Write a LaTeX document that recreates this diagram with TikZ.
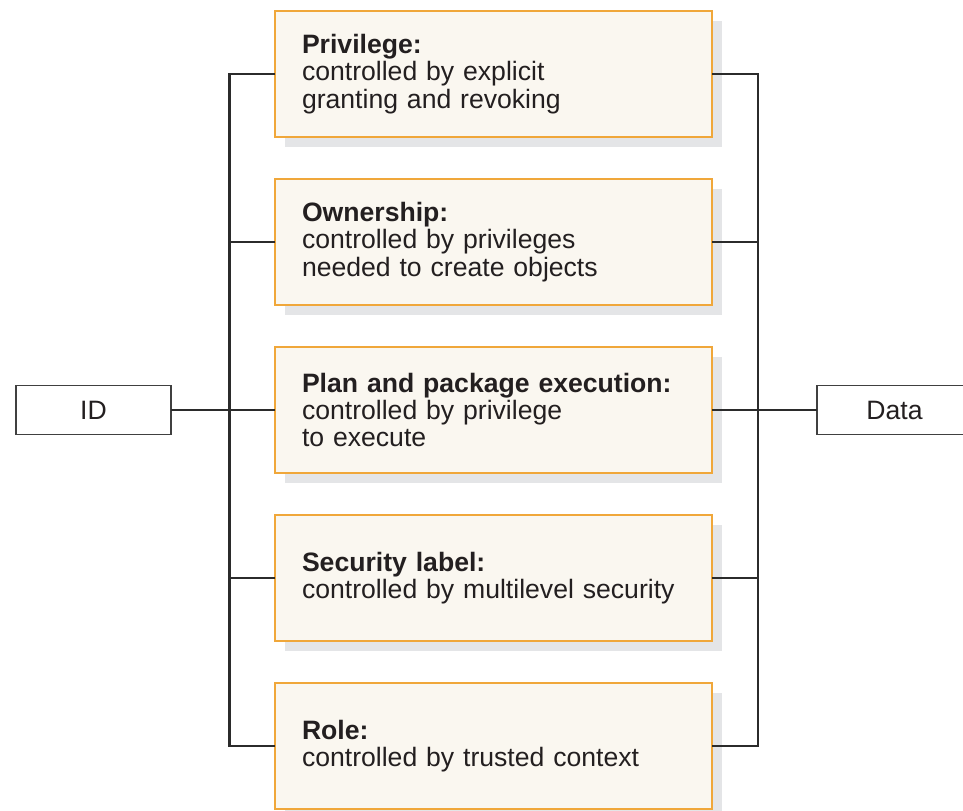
\documentclass[tikz,border=0pt]{standalone}
\usepackage{fontspec}
\setmainfont{Liberation Sans}
\usetikzlibrary{positioning,shadows}
\definecolor{permedge}{HTML}{F0A73A}
\definecolor{permfill}{HTML}{FAF7F0}
\definecolor{shadegray}{HTML}{E4E5E7}
\definecolor{wirecol}{HTML}{2B2B2B}
\definecolor{inkcol}{HTML}{231F20}

\begin{document}
\begin{tikzpicture}[
  x=0.5pt, y=-0.5pt,
  node distance=21pt and 52pt,
  font=\fontsize{13.3}{13.6}\selectfont,
  text=inkcol,
  perm/.style={
    draw=permedge,
    fill=permfill,
    line width=0.75pt,
    outer sep=0pt,
    drop shadow={shadow xshift=5pt, shadow yshift=-5pt, fill=shadegray, opacity=1},
    align=left,
    text width=191.5pt,
    inner xsep=13.5pt,
    inner ysep=0pt,
    minimum height=63pt
  },
  endbox/.style={
    draw=black!75,
    line width=0.8pt,
    outer sep=0pt,
    minimum width=77.5pt,
    minimum height=24.5pt,
    inner sep=0pt
  },
  wire/.style={draw=wirecol, line width=1.3pt}
]
\useasboundingbox (0,0) rectangle (963,810);
\clip (0,0) rectangle (963,810);

% Colonne des autorisations
\node[perm] (priv) at (493.5,74) {\textbf{Privilege:}\\controlled by explicit\\granting and revoking};
\node[perm, below=of priv] (own) {\textbf{Ownership:}\\controlled by privileges\\needed to create objects};
\node[perm, below=of own] (plan) {\textbf{Plan and package execution:}\\controlled by privilege\\to execute};
\node[perm, below=of plan] (sec) {\textbf{Security label:}\\controlled by multilevel security};
\node[perm, below=of sec] (role) {\textbf{Role:}\\controlled by trusted context};

% Boîtes d'extrémité
\node[endbox, left=of plan] (id) {ID};
\node[endbox, right=52.5pt of plan] (data) {Data};

% Barres verticales
\coordinate (lbus) at (229.5,0);
\coordinate (rbus) at (758,0);
\draw[wire] (priv.west) -| (lbus |- role.west) -- (role.west);
\draw[wire] (priv.east) -| (rbus |- role.east) -- (role.east);
\foreach \b in {own,plan,sec}{
  \draw[wire] (\b.west) -- (lbus |- \b.west);
  \draw[wire] (\b.east) -- (rbus |- \b.east);
}

% Liaisons
\draw[wire] (id) -- (plan);
\draw[wire] (plan) -- (data);
\end{tikzpicture}
\end{document}
